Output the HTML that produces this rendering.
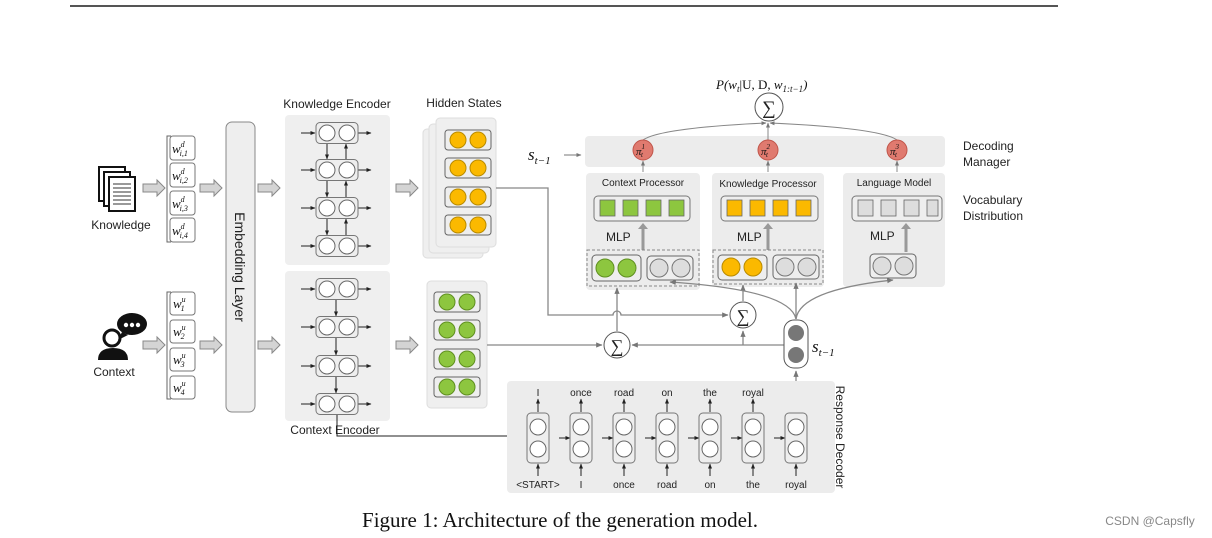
<!DOCTYPE html>
<html><head><meta charset="utf-8"><style>
html,body{margin:0;padding:0;background:#fff}
svg{display:block}
.s{font-family:"Liberation Sans",sans-serif;fill:#222}
.m{font-family:"Liberation Serif",serif;font-style:italic;fill:#111}
</style></head><body>
<svg width="1212" height="538" viewBox="0 0 1212 538" xmlns="http://www.w3.org/2000/svg">
<defs>
<marker id="a" viewBox="0 0 10 10" refX="9" refY="5" markerWidth="5" markerHeight="5" orient="auto"><path d="M0,1 L10,5 L0,9z" fill="#222"/></marker>
<marker id="g" viewBox="0 0 10 10" refX="9" refY="5" markerWidth="5" markerHeight="5" orient="auto"><path d="M0,1 L10,5 L0,9z" fill="#777"/></marker>
<g id="bigarrow"><path d="M0,-4 H14 V-8 L22,0 L14,8 V4 H0z" fill="#d4d4d4" stroke="#888" stroke-width="1"/></g>
<g id="cell"><rect x="-21" y="-10.5" width="42" height="21" rx="4" fill="#eee" stroke="#777"/><circle cx="-10" cy="0" r="8" fill="#fff" stroke="#666"/><circle cx="10" cy="0" r="8" fill="#fff" stroke="#666"/></g>
<g id="ocell"><rect x="-23" y="-10" width="46" height="20" rx="3" fill="#eee" stroke="#666"/><circle cx="-10" cy="0" r="8" fill="#fbb900" stroke="#b88a00"/><circle cx="10" cy="0" r="8" fill="#fbb900" stroke="#b88a00"/></g>
<g id="gcell"><rect x="-23" y="-10" width="46" height="20" rx="3" fill="#eee" stroke="#666"/><circle cx="-10" cy="0" r="8" fill="#8dc63f" stroke="#5f8f20"/><circle cx="10" cy="0" r="8" fill="#8dc63f" stroke="#5f8f20"/></g>
<g id="grcell"><rect x="-23" y="-12" width="46" height="24" rx="4" fill="#eee" stroke="#666"/><circle cx="-11" cy="0" r="9" fill="#ddd" stroke="#777"/><circle cx="11" cy="0" r="9" fill="#ddd" stroke="#777"/></g>
<g id="dcell"><rect x="-11" y="-25" width="22" height="50" rx="4" fill="#eee" stroke="#777"/><circle cx="0" cy="-11" r="8" fill="#fff" stroke="#666"/><circle cx="0" cy="11" r="8" fill="#fff" stroke="#666"/></g>
</defs>

<line x1="70" y1="6" x2="1058" y2="6" stroke="#555" stroke-width="2"/>

<!-- Knowledge icon -->
<g fill="#fff" stroke="#111" stroke-width="2">
<rect x="99" y="167" width="26" height="34"/><rect x="104" y="172" width="26" height="34"/><rect x="109" y="177" width="26" height="34"/>
</g>
<g stroke="#333" stroke-width="1"><line x1="113" y1="184" x2="131" y2="184"/><line x1="113" y1="188" x2="131" y2="188"/><line x1="113" y1="192" x2="131" y2="192"/><line x1="113" y1="196" x2="131" y2="196"/><line x1="113" y1="200" x2="131" y2="200"/><line x1="113" y1="204" x2="131" y2="204"/></g>
<text x="121" y="229" class="s" font-size="12" text-anchor="middle">Knowledge</text>
<!-- Context icon -->
<path d="M98,360 q0,-12 15,-12 q15,0 15,12z" fill="#111"/>
<circle cx="112" cy="338" r="8" fill="#fff" stroke="#111" stroke-width="3"/>
<ellipse cx="132" cy="324" rx="15" ry="11" fill="#111"/><path d="M122,332 l-4,8 l10,-5z" fill="#111"/>
<circle cx="126" cy="325" r="2.2" fill="#fff"/><circle cx="132" cy="325" r="2.2" fill="#fff"/><circle cx="138" cy="325" r="2.2" fill="#fff"/>
<text x="114" y="376" class="s" font-size="12" text-anchor="middle">Context</text>

<use href="#bigarrow" x="143" y="188"/><use href="#bigarrow" x="143" y="345"/>
<!-- word boxes -->
<path d="M171,136 h-4 v106 h4 M171,292 h-4 v107 h4" fill="none" stroke="#666"/>
<g fill="#fff" stroke="#777">
<rect x="170" y="136" width="25" height="24" rx="3"/><rect x="170" y="163" width="25" height="24" rx="3"/><rect x="170" y="191" width="25" height="24" rx="3"/><rect x="170" y="218" width="25" height="24" rx="3"/>
<rect x="170" y="292" width="25" height="23" rx="3"/><rect x="170" y="320" width="25" height="23" rx="3"/><rect x="170" y="348" width="25" height="23" rx="3"/><rect x="170" y="376" width="25" height="23" rx="3"/>
</g>
<g class="m" font-size="13">
<text x="172" y="153">w<tspan font-size="8" dy="-6">d</tspan><tspan font-size="8" dx="-5" dy="9">i,1</tspan></text>
<text x="172" y="180">w<tspan font-size="8" dy="-6">d</tspan><tspan font-size="8" dx="-5" dy="9">i,2</tspan></text>
<text x="172" y="208">w<tspan font-size="8" dy="-6">d</tspan><tspan font-size="8" dx="-5" dy="9">i,3</tspan></text>
<text x="172" y="235">w<tspan font-size="8" dy="-6">d</tspan><tspan font-size="8" dx="-5" dy="9">i,4</tspan></text>
<text x="173" y="308">w<tspan font-size="8" dy="-6">u</tspan><tspan font-size="8" dx="-5" dy="9">1</tspan></text>
<text x="173" y="336">w<tspan font-size="8" dy="-6">u</tspan><tspan font-size="8" dx="-5" dy="9">2</tspan></text>
<text x="173" y="364">w<tspan font-size="8" dy="-6">u</tspan><tspan font-size="8" dx="-5" dy="9">3</tspan></text>
<text x="173" y="392">w<tspan font-size="8" dy="-6">u</tspan><tspan font-size="8" dx="-5" dy="9">4</tspan></text>
</g>
<use href="#bigarrow" x="200" y="188"/><use href="#bigarrow" x="200" y="345"/>
<!-- embedding -->
<rect x="226" y="122" width="29" height="290" rx="6" fill="#eee" stroke="#888"/>
<text transform="translate(235,267) rotate(90)" class="s" font-size="14" text-anchor="middle">Embedding Layer</text>
<use href="#bigarrow" x="258" y="188"/><use href="#bigarrow" x="258" y="345"/>

<!-- encoders -->
<text x="337" y="108" class="s" font-size="12" text-anchor="middle">Knowledge Encoder</text>
<rect x="285" y="115" width="105" height="150" rx="4" fill="#efefef"/>
<rect x="285" y="271" width="105" height="150" rx="4" fill="#efefef"/>
<g stroke="#222" fill="none" stroke-width="1">
<g marker-end="url(#a)">
<line x1="301" y1="133" x2="315" y2="133"/><line x1="301" y1="170" x2="315" y2="170"/><line x1="301" y1="208" x2="315" y2="208"/><line x1="301" y1="246" x2="315" y2="246"/>
<line x1="358" y1="133" x2="371" y2="133"/><line x1="358" y1="170" x2="371" y2="170"/><line x1="358" y1="208" x2="371" y2="208"/><line x1="358" y1="246" x2="371" y2="246"/>
<line x1="327" y1="144" x2="327" y2="159"/><line x1="327" y1="181" x2="327" y2="197"/><line x1="327" y1="219" x2="327" y2="235"/>
<line x1="346" y1="159" x2="346" y2="144"/><line x1="346" y1="197" x2="346" y2="181"/><line x1="346" y1="235" x2="346" y2="219"/>
<line x1="301" y1="289" x2="315" y2="289"/><line x1="301" y1="327" x2="315" y2="327"/><line x1="301" y1="366" x2="315" y2="366"/><line x1="301" y1="404" x2="315" y2="404"/>
<line x1="358" y1="289" x2="371" y2="289"/><line x1="358" y1="327" x2="371" y2="327"/><line x1="358" y1="366" x2="371" y2="366"/><line x1="358" y1="404" x2="371" y2="404"/>
<line x1="336" y1="300" x2="336" y2="316"/><line x1="336" y1="338" x2="336" y2="355"/><line x1="336" y1="377" x2="336" y2="393"/>
<path d="M337,415 V436 H527"/>
</g></g>
<use href="#cell" x="337" y="133"/><use href="#cell" x="337" y="170"/><use href="#cell" x="337" y="208"/><use href="#cell" x="337" y="246"/>
<use href="#cell" x="337" y="289"/><use href="#cell" x="337" y="327"/><use href="#cell" x="337" y="366"/><use href="#cell" x="337" y="404"/>
<text x="335" y="434" class="s" font-size="12" text-anchor="middle">Context Encoder</text>

<use href="#bigarrow" x="396" y="188"/><use href="#bigarrow" x="396" y="345"/>
<!-- hidden states -->
<text x="464" y="107" class="s" font-size="12" text-anchor="middle">Hidden States</text>
<rect x="423" y="129" width="60" height="129" rx="4" fill="#efefef" stroke="#ddd"/>
<rect x="429" y="124" width="60" height="129" rx="4" fill="#efefef" stroke="#ddd"/>
<rect x="436" y="118" width="60" height="129" rx="4" fill="#efefef" stroke="#ddd"/>
<use href="#ocell" x="468" y="140"/><use href="#ocell" x="468" y="168"/><use href="#ocell" x="468" y="197"/><use href="#ocell" x="468" y="225"/>
<rect x="427" y="281" width="60" height="127" rx="4" fill="#efefef" stroke="#ddd"/>
<use href="#gcell" x="457" y="302"/><use href="#gcell" x="457" y="330"/><use href="#gcell" x="457" y="359"/><use href="#gcell" x="457" y="387"/>

<!-- decoding manager -->
<rect x="585" y="136" width="360" height="31" rx="4" fill="#ececec"/>
<text x="963" y="150" class="s" font-size="12">Decoding</text>
<text x="963" y="166" class="s" font-size="12">Manager</text>
<text x="963" y="204" class="s" font-size="12">Vocabulary</text>
<text x="963" y="220" class="s" font-size="12">Distribution</text>
<text x="528" y="160" class="m" font-size="17">s<tspan font-size="11" dy="4">t−1</tspan></text>
<line x1="564" y1="155" x2="581" y2="155" stroke="#777" marker-end="url(#g)"/>

<!-- processors -->
<rect x="586" y="173" width="114" height="117" rx="4" fill="#ececec"/>
<rect x="712" y="173" width="112" height="114" rx="4" fill="#ececec"/>
<rect x="843" y="173" width="102" height="114" rx="4" fill="#ececec"/>
<text x="643" y="186" class="s" font-size="10" text-anchor="middle">Context Processor</text>
<text x="768" y="187" class="s" font-size="10" text-anchor="middle">Knowledge Processor</text>
<text x="894" y="186" class="s" font-size="10" text-anchor="middle">Language Model</text>
<rect x="594" y="196" width="96" height="25" rx="4" fill="#eee" stroke="#777"/>
<rect x="721" y="196" width="97" height="25" rx="4" fill="#eee" stroke="#777"/>
<rect x="852" y="196" width="90" height="25" rx="4" fill="#eee" stroke="#777"/>
<g stroke="#666" stroke-width="0.8">
<rect x="600" y="200" width="15" height="16" fill="#8dc63f"/><rect x="623" y="200" width="15" height="16" fill="#8dc63f"/><rect x="646" y="200" width="15" height="16" fill="#8dc63f"/><rect x="669" y="200" width="15" height="16" fill="#8dc63f"/>
<rect x="727" y="200" width="15" height="16" fill="#fbb900"/><rect x="750" y="200" width="15" height="16" fill="#fbb900"/><rect x="773" y="200" width="15" height="16" fill="#fbb900"/><rect x="796" y="200" width="15" height="16" fill="#fbb900"/>
<rect x="858" y="200" width="15" height="16" fill="#ddd"/><rect x="881" y="200" width="15" height="16" fill="#ddd"/><rect x="904" y="200" width="15" height="16" fill="#ddd"/><rect x="927" y="200" width="11" height="16" fill="#ddd"/>
</g>
<text x="606" y="241" class="s" font-size="12">MLP</text>
<text x="737" y="241" class="s" font-size="12">MLP</text>
<text x="870" y="240" class="s" font-size="12">MLP</text>
<g stroke="#999" stroke-width="3"><line x1="643" y1="250" x2="643" y2="228"/><line x1="768" y1="250" x2="768" y2="228"/><line x1="906" y1="252" x2="906" y2="228"/></g>
<g fill="#999"><path d="M638,229 l5,-6 l5,6z"/><path d="M763,229 l5,-6 l5,6z"/><path d="M901,229 l5,-6 l5,6z"/></g>
<rect x="587" y="250" width="112" height="36" fill="none" stroke="#888" stroke-dasharray="3,2"/>
<rect x="713" y="250" width="110" height="34" fill="none" stroke="#888" stroke-dasharray="3,2"/>
<rect x="592" y="255" width="49" height="26" rx="4" fill="#eee" stroke="#666"/><circle cx="605" cy="268" r="9" fill="#8dc63f" stroke="#5f8f20"/><circle cx="627" cy="268" r="9" fill="#8dc63f" stroke="#5f8f20"/>
<use href="#grcell" x="670" y="268"/>
<rect x="718" y="255" width="49" height="25" rx="4" fill="#eee" stroke="#666"/><circle cx="731" cy="267" r="9" fill="#fbb900" stroke="#b88a00"/><circle cx="753" cy="267" r="9" fill="#fbb900" stroke="#b88a00"/>
<use href="#grcell" x="796" y="267"/>
<use href="#grcell" x="893" y="266"/>

<!-- pi & top sum -->
<g stroke="#888" fill="none" stroke-width="1">
<line x1="643" y1="172" x2="643" y2="161" marker-end="url(#g)"/>
<line x1="768" y1="172" x2="768" y2="161" marker-end="url(#g)"/>
<line x1="897" y1="172" x2="897" y2="161" marker-end="url(#g)"/>
<path d="M643,140 Q660,128 766,123" marker-end="url(#g)"/>
<line x1="768" y1="140" x2="768" y2="123" marker-end="url(#g)"/>
<path d="M897,140 Q880,128 770,123" marker-end="url(#g)"/>
</g>
<g fill="#e07a6f" stroke="#c0554a"><circle cx="643" cy="150" r="10"/><circle cx="768" cy="150" r="10"/><circle cx="897" cy="150" r="10"/></g>
<g class="m" font-size="11" font-style="normal"><text x="636" y="155">π<tspan font-size="7" dy="-6">1</tspan><tspan font-size="7" dx="-4" dy="8" font-style="italic">t</tspan></text>
<text x="761" y="155">π<tspan font-size="7" dy="-6">2</tspan><tspan font-size="7" dx="-4" dy="8" font-style="italic">t</tspan></text>
<text x="890" y="155">π<tspan font-size="7" dy="-6">3</tspan><tspan font-size="7" dx="-4" dy="8" font-style="italic">t</tspan></text></g>
<circle cx="769" cy="107" r="14" fill="#fff" stroke="#555"/>
<text x="769" y="114" font-family="Liberation Serif,serif" font-size="19" text-anchor="middle" fill="#222">∑</text>
<text x="716" y="89" class="m" font-size="13">P(w<tspan font-size="9" dy="3">t</tspan><tspan dy="-3" font-style="normal">|U, D, </tspan>w<tspan font-size="9" dy="3">1:t−1</tspan><tspan dy="-3">)</tspan></text>

<!-- connectors -->
<g stroke="#888" fill="none" stroke-width="1.3">
<path d="M496,188 H548 V315 H613 a4,4 0 0 1 8,0 H728" marker-end="url(#g)"/>
<line x1="487" y1="345" x2="602" y2="345" marker-end="url(#g)"/>
<line x1="784" y1="345" x2="632" y2="345" marker-end="url(#g)"/>
<line x1="743" y1="345" x2="743" y2="331" marker-end="url(#g)"/>
<line x1="617" y1="331" x2="617" y2="288" marker-end="url(#g)"/>
<line x1="743" y1="301" x2="743" y2="285" marker-end="url(#g)"/>
<line x1="796" y1="319" x2="796" y2="283" marker-end="url(#g)"/>
<path d="M796,319 Q790,290 670,282" marker-end="url(#g)"/>
<path d="M796,319 Q800,290 893,280" marker-end="url(#g)"/>
<line x1="796" y1="413" x2="796" y2="371" marker-end="url(#g)"/>
</g>
<circle cx="617" cy="345" r="13" fill="#fff" stroke="#555"/>
<text x="617" y="352" font-family="Liberation Serif,serif" font-size="18" text-anchor="middle" fill="#222">∑</text>
<circle cx="743" cy="315" r="13" fill="#fff" stroke="#555"/>
<text x="743" y="322" font-family="Liberation Serif,serif" font-size="18" text-anchor="middle" fill="#222">∑</text>
<rect x="784" y="320" width="24" height="48" rx="10" fill="#fff" stroke="#555"/>
<circle cx="796" cy="333" r="8" fill="#777"/><circle cx="796" cy="355" r="8" fill="#777"/>
<text x="812" y="352" class="m" font-size="17">s<tspan font-size="11" dy="4">t−1</tspan></text>

<!-- response decoder -->
<rect x="507" y="381" width="328" height="112" rx="4" fill="#ececec"/>
<text transform="translate(836,437) rotate(90)" class="s" font-size="12" text-anchor="middle">Response Decoder</text>
<g stroke="#222" fill="none" marker-end="url(#a)">
<line x1="559" y1="438" x2="570" y2="438"/><line x1="602" y1="438" x2="613" y2="438"/><line x1="645" y1="438" x2="656" y2="438"/><line x1="688" y1="438" x2="699" y2="438"/><line x1="731" y1="438" x2="742" y2="438"/><line x1="774" y1="438" x2="785" y2="438"/>
<line x1="538" y1="412" x2="538" y2="399"/><line x1="581" y1="412" x2="581" y2="399"/><line x1="624" y1="412" x2="624" y2="399"/><line x1="667" y1="412" x2="667" y2="399"/><line x1="710" y1="412" x2="710" y2="399"/><line x1="753" y1="412" x2="753" y2="399"/>
<line x1="538" y1="476" x2="538" y2="464"/><line x1="581" y1="476" x2="581" y2="464"/><line x1="624" y1="476" x2="624" y2="464"/><line x1="667" y1="476" x2="667" y2="464"/><line x1="710" y1="476" x2="710" y2="464"/><line x1="753" y1="476" x2="753" y2="464"/><line x1="796" y1="476" x2="796" y2="464"/>
</g>
<use href="#dcell" x="538" y="438"/><use href="#dcell" x="581" y="438"/><use href="#dcell" x="624" y="438"/><use href="#dcell" x="667" y="438"/><use href="#dcell" x="710" y="438"/><use href="#dcell" x="753" y="438"/><use href="#dcell" x="796" y="438"/>
<g class="s" font-size="10" text-anchor="middle">
<text x="538" y="396">I</text><text x="581" y="396">once</text><text x="624" y="396">road</text><text x="667" y="396">on</text><text x="710" y="396">the</text><text x="753" y="396">royal</text>
<text x="538" y="488">&lt;START&gt;</text><text x="581" y="488">I</text><text x="624" y="488">once</text><text x="667" y="488">road</text><text x="710" y="488">on</text><text x="753" y="488">the</text><text x="796" y="488">royal</text>
</g>

<text x="560" y="527" font-family="Liberation Serif,serif" font-size="21" text-anchor="middle" fill="#111">Figure 1: Architecture of the generation model.</text>
<text x="1150" y="525" font-family="Liberation Sans,sans-serif" font-size="12" text-anchor="middle" fill="#888">CSDN @Capsfly</text>
</svg>
</body></html>
